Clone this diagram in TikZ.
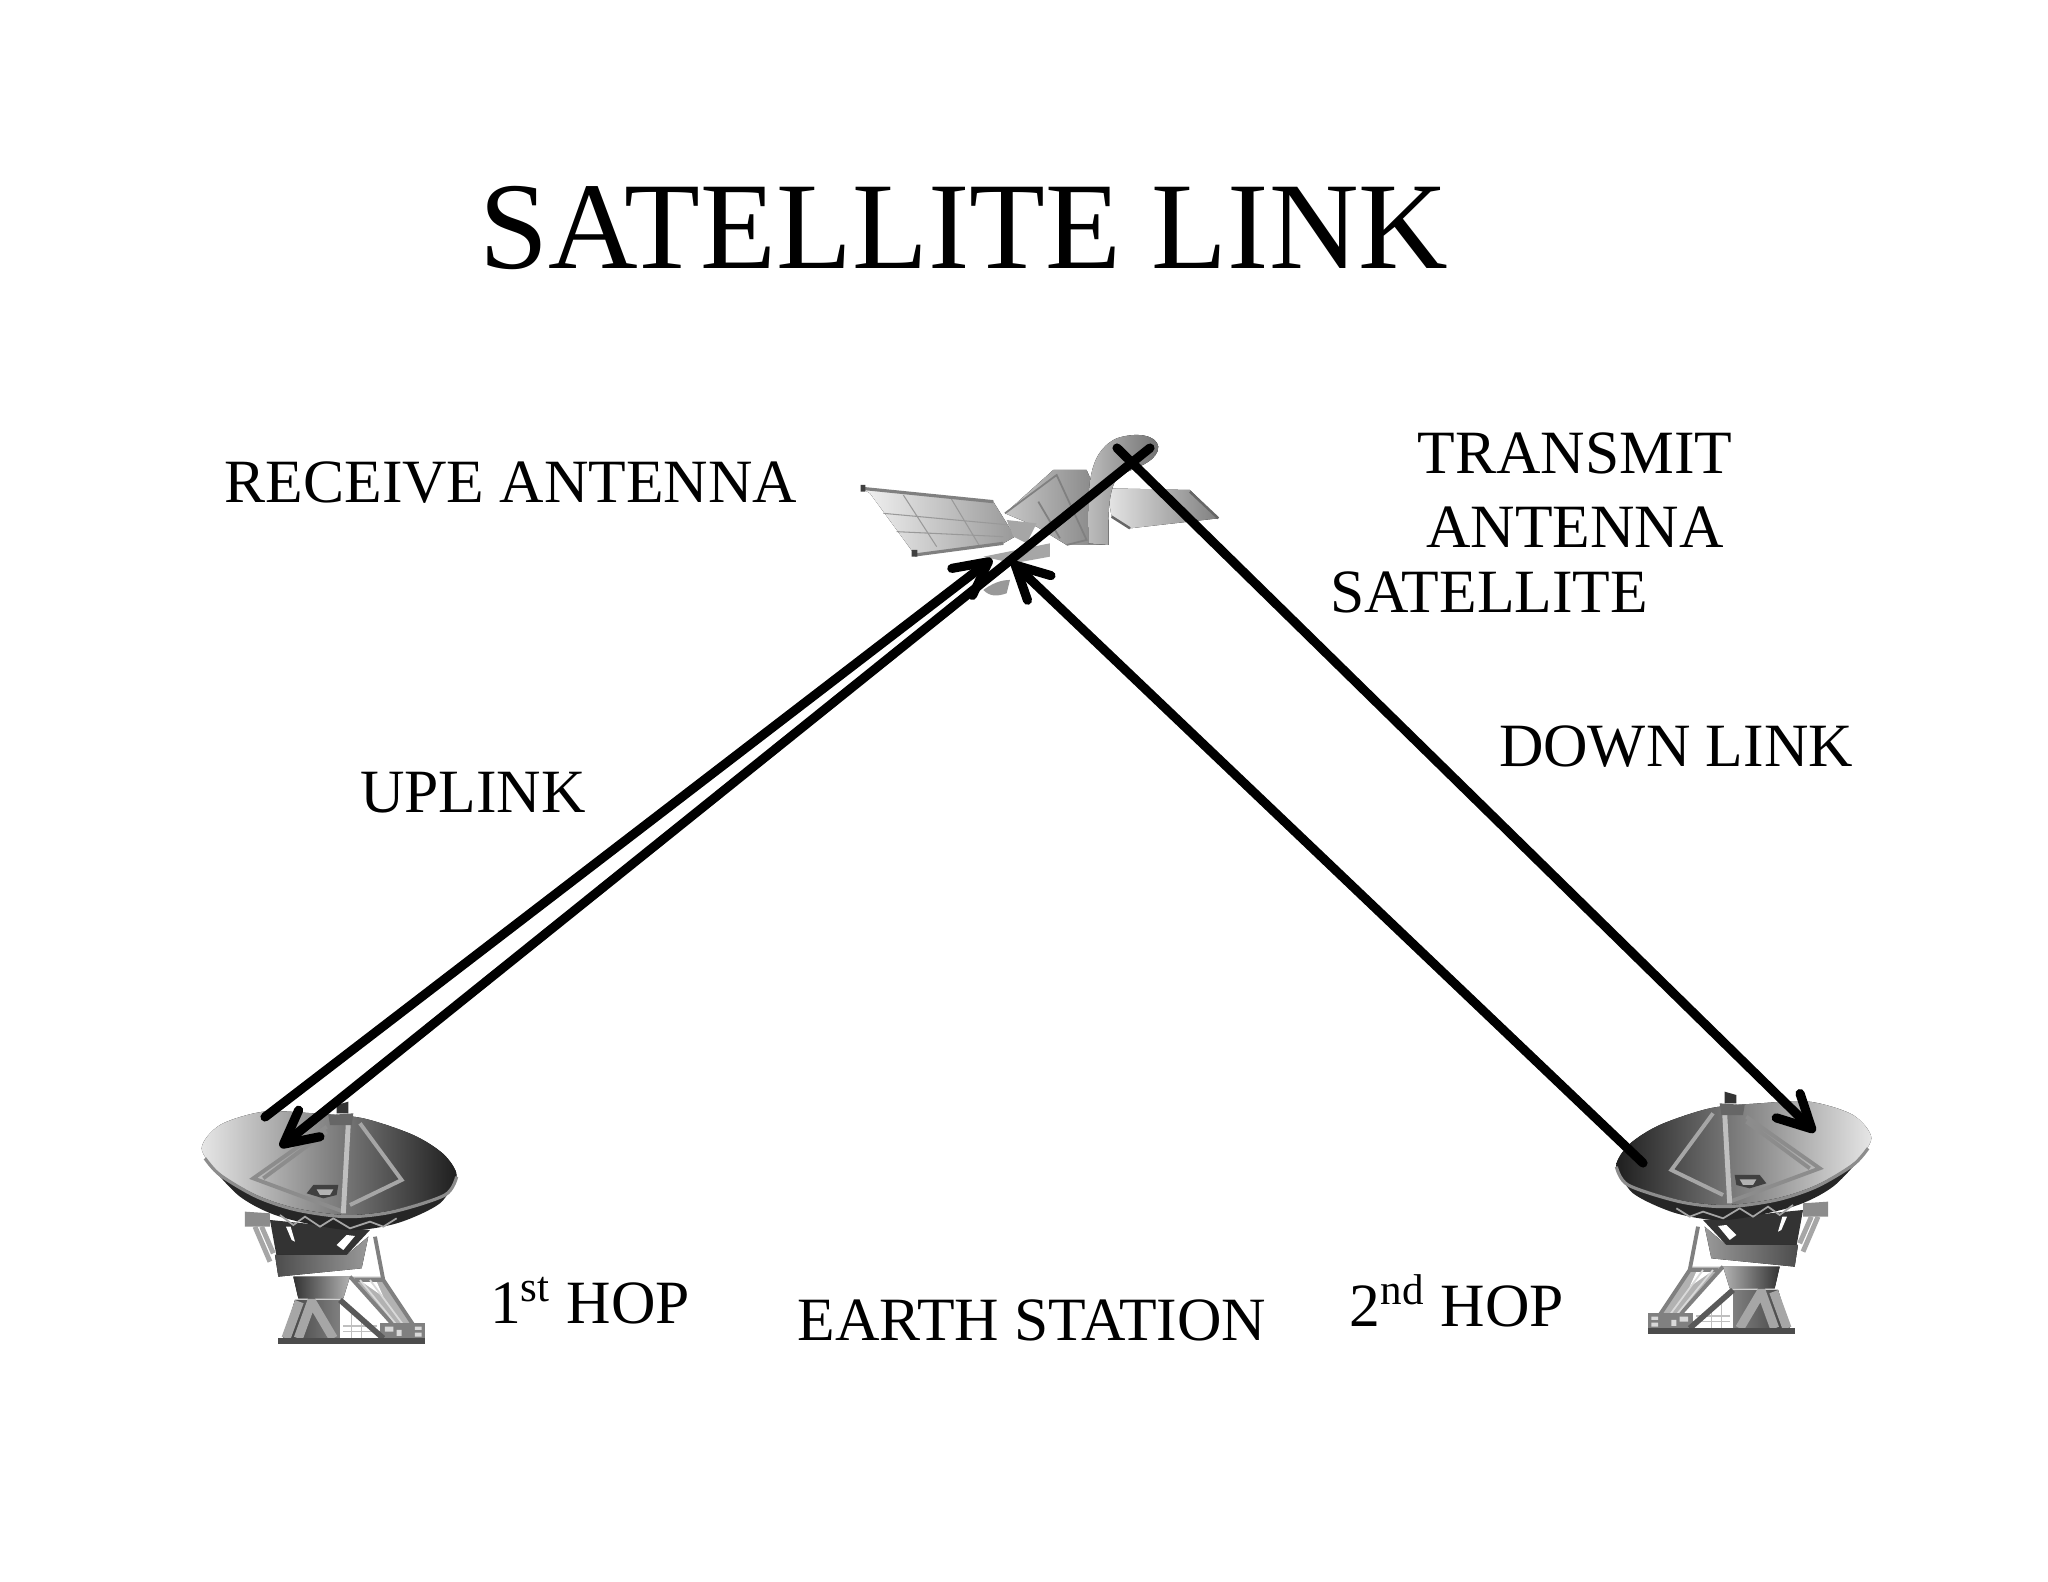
\documentclass[tikz,border=0pt]{standalone}
\usepackage{fontspec}
\setmainfont{Liberation Serif}
\usetikzlibrary{arrows.meta, positioning}

\tikzset{tone/.style 2 args={left color=#1,right color=#2},
  bowltone/.style={left color=black!10,middle color=black!38,right color=black!88}}
\tikzset{dish/.pic={
  % truss behind the mount
  \fill[black!30] (510,590) -- (610,590) -- (700,735) -- (640,735) -- cycle;
  \fill[white] (545,605) -- (590,605) -- (610,650) -- cycle;
  \draw[black!50,line width=1.1pt] (585,470) -- (610,600) -- (700,735)
        (510,590) -- (640,735) (525,600) -- (610,600);
  \draw[black!15,line width=.5pt] (540,600) -- (650,735) (570,600) -- (670,735);
  \fill[black!50] (600,730) -- (735,730) -- (735,780) -- (600,780) -- cycle;
  \fill[black!15] (615,740) rectangle (640,755) (650,750) rectangle (665,768) (705,740) rectangle (725,750) (705,758) rectangle (725,770);
  % pedestal
  \draw[black!25,line width=.4pt] (490,738) -- (590,738) (490,755) -- (600,755) (515,700) -- (515,775) (545,725) -- (545,775);
  \fill[tone={black!75}{black!50}] (345,660) -- (480,660) -- (480,775) -- (310,775) -- cycle;
  \draw[black!35,line width=2.6pt] (318,775) -- (358,665) (355,775) -- (395,665) -- (460,775);
  \draw[black!65,line width=1.6pt] (480,660) -- (610,775);
  \fill[black!70] (295,775) -- (735,775) -- (735,792) -- (295,792) -- cycle;
  \fill[tone={black!80}{black!30}] (340,590) -- (510,590) -- (490,655) -- (355,655) -- cycle;
  % mount
  \fill[black!80] (270,420) -- (570,450) -- (500,525) -- (290,530) -- cycle;
  \fill[tone={black!70}{black!40}] (285,525) -- (295,590) -- (545,565) -- (565,470) -- (500,525) -- cycle;
  \fill[white] (318,440) -- (332,440) -- (345,485) -- (335,480) -- cycle
        (500,465) -- (525,468) -- (490,510) -- (470,495) -- cycle;
  \fill[black!45] (195,395) -- (270,400) -- (270,440) -- (195,440) -- cycle;
  \draw[black!35,line width=1.4pt] (225,440) -- (270,545) (245,440) -- (280,520);
  % bowl
  \fill[black!85] plot[smooth] coordinates {(85,250) (180,350) (300,410) (500,450) (650,430) (780,370) (830,290)} -- cycle;
  \draw[black!35,line width=.5pt] (300,405) -- (340,435) -- (375,410) -- (420,440) -- (460,415) -- (510,445) -- (570,425) -- (610,440) -- (650,415);
  \fill[bowltone] plot[smooth cycle] coordinates
        {(65,205) (120,135) (250,95) (400,100) (550,115) (700,165) (790,222) (830,285) (795,342) (640,390) (500,405) (350,385) (230,345) (120,280)};
  \draw[black!45,line width=.9pt] plot[smooth] coordinates {(75,235) (120,285) (230,350) (350,390) (500,410) (640,395) (795,345) (830,290)};
  % ribs
  \draw[black!45,line width=1.1pt] (440,140) -- (220,295) -- (490,395) (440,155) -- (250,295);
  \draw[black!35,line width=1.1pt] (540,130) -- (665,300) -- (510,375);
  \draw[black!25,line width=1.4pt] (505,130) -- (490,400);
  \fill[black!75] (400,315) -- (475,315) -- (470,345) -- (430,355) -- (380,340) -- cycle;
  \fill[black!30] (410,328) -- (460,328) -- (450,345) -- (420,345) -- cycle;
  \fill[black!60] (445,105) -- (520,100) -- (515,135) -- (450,135) -- cycle;
  \fill[black!80] (470,75) -- (505,65) -- (505,100) -- (470,100) -- cycle;
}}

\begin{document}
\begin{tikzpicture}[x=0.01cm,y=-0.01cm]
  \tikzstyle{lbl}=[font=\fontsize{17.5}{21}\selectfont,inner sep=0pt,align=center]
  \tikzstyle{link}=[line width=2.6pt,black,line cap=round]
  \tikzstyle{hop}=[link,-{Straight Barb[length=3.3mm,width=3.4mm,round]}]
  \useasboundingbox (0,0) rectangle (2048,1582);
  \fill[white] (0,0) rectangle (2048,1582);

  \pic (dishl) [shift={(180,1080)},scale=.3333] {dish};
  \pic (dishr) [shift={(1893,1070)},xscale=-.3333,yscale=.3333,
    tone/.style 2 args={left color=#2,right color=#1},
    bowltone/.style={left color=black!88,middle color=black!38,right color=black!10}] {dish};

  % satellite
  \begin{scope}[shift={(840,410)},scale=.3333]
    \fill[left color=black!5,right color=black!40] (65,235) -- (460,275) -- (525,380) -- (490,400) -- (225,435) -- (90,250) -- cycle;
    \draw[black!40,line width=.3pt] (130,310) -- (510,345) (170,365) -- (490,380) (190,255) -- (290,410) (330,260) -- (420,410);
    \draw[black!50,line width=.9pt] (65,235) -- (460,275) (225,435) -- (490,400);
    \fill[black!75] (62,225) rectangle (76,245) (215,420) rectangle (232,440);
    \fill[left color=black!10,right color=black!50] (800,235) -- (1050,240) -- (1135,325) -- (870,355) -- (815,320) -- cycle;
    \draw[black!60,line width=.7pt] (815,320) -- (870,355) (1050,245) -- (1135,325);
    \fill[black!35] (430,440) -- (630,400) -- (630,440) -- (520,460) -- cycle;
    \fill[black!40] (430,540) .. controls (470,510) and (500,510) .. (510,510) -- (500,550) .. controls (470,560) and (450,560) .. (430,540) -- cycle;
    \fill[left color=black!22,right color=black!50] (640,180) -- (740,180) -- (805,330) -- (805,405) -- (680,405) -- (590,350) -- (495,310) -- cycle;
    \draw[black!50,line width=.5pt] (495,310) -- (650,195) -- (740,390) -- (680,405) (595,275) -- (660,385);
    \fill[black!35] (500,330) -- (590,340) -- (560,400) -- (520,380) -- cycle;
    \fill[left color=black!25,right color=black!55] (745,400) .. controls (745,250) and (735,130) .. (830,85) .. controls (890,65) and (950,75) .. (955,110) .. controls (955,150) and (900,170) .. (850,190) .. controls (800,210) and (805,330) .. (805,405) -- cycle;
  \end{scope}

  \coordinate (uptx) at (265,1117);
  \coordinate (uprx) at (992,559);
  \coordinate (dntx) at (1150,448);
  \coordinate (dnrx) at (280,1147);
  \coordinate (retx) at (1643,1163);
  \coordinate (rerx) at (1012,562);
  \coordinate (fwtx) at (1117,448);
  \coordinate (fwrx) at (1815,1132);

  \draw[hop] (uptx) -- (uprx);
  \draw[hop] (dntx) -- (dnrx);
  \draw[hop] (retx) -- (rerx);
  \draw[hop] (fwtx) -- (fwrx);

  \node (title) at (964,228) [inner sep=0pt,font=\fontsize{35.3}{40}\selectfont] {SATELLITE LINK};
  \node[lbl] (rxant) at (511,483) {RECEIVE ANTENNA};
  \node[lbl] (txant) at (1575,490) {TRANSMIT\\ANTENNA};
  \node[lbl] (sat) at (1489,592) {SATELLITE};
  \node[lbl] (down) at (1676,747) {DOWN LINK};
  \node[lbl] (up) at (473,793) {UPLINK};
  \node[lbl] (hopa) at (590,1301) {1\textsuperscript{st} HOP};
  \node[lbl] (earth) at (1032,1320) {EARTH STATION};
  \node[lbl] (hopb) at (1457,1301) {2\textsuperscript{nd} HOP};
\end{tikzpicture}
\end{document}
